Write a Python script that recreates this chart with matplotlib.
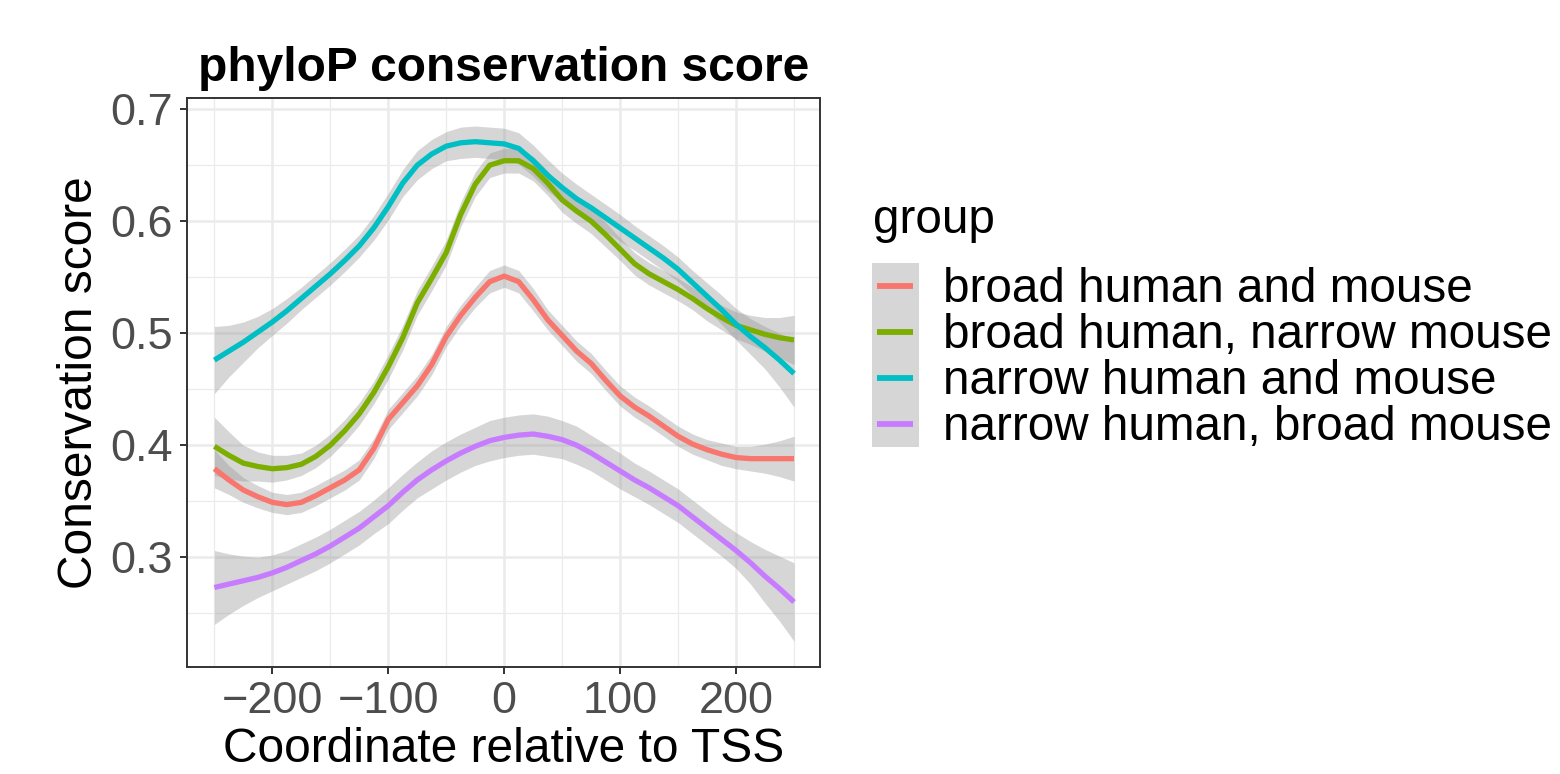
import matplotlib.pyplot as plt
from matplotlib.lines import Line2D
from matplotlib.patches import Rectangle

plt.rcParams['font.family'] = ['Liberation Sans', 'DejaVu Sans']

# positions relative to TSS (every 12.5 bp)
coord = [-250, -237.5, -225, -212.5, -200, -187.5, -175, -162.5, -150, -137.5,
         -125, -112.5, -100, -87.5, -75, -62.5, -50, -37.5, -25, -12.5, 0,
         12.5, 25, 37.5, 50, 62.5, 75, 87.5, 100, 112.5, 125,
         137.5, 150, 162.5, 175, 187.5, 200, 212.5, 225, 237.5, 250]

groups = ["broad human and mouse", "broad human, narrow mouse",
          "narrow human and mouse", "narrow human, broad mouse"]
colors = ["#F8766D", "#7CAE00", "#00BFC4", "#C77CFF"]

broad_both = [0.379, 0.369, 0.360, 0.354, 0.349, 0.347, 0.349, 0.355, 0.362, 0.369,
              0.378, 0.397, 0.423, 0.438, 0.453, 0.472, 0.497, 0.516, 0.532, 0.546, 0.551,
              0.546, 0.530, 0.512, 0.498, 0.484, 0.473, 0.458, 0.444, 0.434, 0.426,
              0.417, 0.408, 0.401, 0.396, 0.392, 0.389, 0.388, 0.388, 0.388, 0.388]
broad_narrow = [0.399, 0.391, 0.384, 0.381, 0.379, 0.380, 0.383, 0.390, 0.400, 0.413,
                0.428, 0.447, 0.470, 0.496, 0.527, 0.549, 0.572, 0.606, 0.633, 0.650, 0.654,
                0.654, 0.647, 0.634, 0.619, 0.609, 0.600, 0.588, 0.575, 0.562, 0.553,
                0.546, 0.539, 0.531, 0.522, 0.514, 0.507, 0.503, 0.499, 0.496, 0.494]
narrow_both = [0.476, 0.484, 0.492, 0.501, 0.510, 0.520, 0.531, 0.542, 0.553, 0.565,
               0.578, 0.594, 0.613, 0.634, 0.650, 0.660, 0.667, 0.670, 0.671, 0.670, 0.669,
               0.665, 0.654, 0.641, 0.630, 0.620, 0.612, 0.603, 0.594, 0.585, 0.576,
               0.567, 0.557, 0.545, 0.533, 0.521, 0.508, 0.497, 0.487, 0.476, 0.464]
narrow_broad = [0.273, 0.276, 0.279, 0.282, 0.286, 0.291, 0.297, 0.303, 0.310, 0.318,
                0.326, 0.336, 0.346, 0.358, 0.369, 0.378, 0.386, 0.393, 0.399, 0.404, 0.407,
                0.409, 0.410, 0.408, 0.405, 0.400, 0.393, 0.385, 0.377, 0.369, 0.362,
                0.354, 0.346, 0.336, 0.326, 0.316, 0.306, 0.295, 0.283, 0.272, 0.260]

# half width of the confidence band
se_broad_both = [0.017, 0.013, 0.011, 0.010, 0.009, 0.009, 0.009, 0.009, 0.009, 0.009,
                 0.009, 0.009, 0.009, 0.009, 0.009, 0.009, 0.009, 0.009, 0.009, 0.010, 0.010,
                 0.010, 0.010, 0.009, 0.009, 0.009, 0.009, 0.009, 0.009, 0.009, 0.009,
                 0.009, 0.009, 0.009, 0.009, 0.010, 0.010, 0.011, 0.013, 0.016, 0.020]
se_broad_narrow = [0.026, 0.021, 0.016, 0.013, 0.012, 0.011, 0.010, 0.010, 0.010, 0.010,
                   0.010, 0.010, 0.011, 0.011, 0.011, 0.011, 0.011, 0.011, 0.011, 0.011, 0.011,
                   0.011, 0.011, 0.011, 0.011, 0.011, 0.011, 0.011, 0.010, 0.010, 0.010,
                   0.010, 0.010, 0.010, 0.011, 0.011, 0.012, 0.013, 0.015, 0.018, 0.022]
se_narrow_both = [0.030, 0.023, 0.018, 0.014, 0.012, 0.011, 0.010, 0.010, 0.010, 0.010,
                  0.010, 0.011, 0.012, 0.012, 0.013, 0.013, 0.013, 0.014, 0.014, 0.014, 0.014,
                  0.014, 0.014, 0.014, 0.013, 0.013, 0.012, 0.012, 0.012, 0.011, 0.011,
                  0.011, 0.011, 0.011, 0.012, 0.013, 0.014, 0.016, 0.019, 0.024, 0.030]
se_narrow_broad = [0.033, 0.027, 0.022, 0.018, 0.016, 0.015, 0.015, 0.015, 0.015, 0.015,
                   0.015, 0.015, 0.016, 0.016, 0.016, 0.017, 0.017, 0.017, 0.017, 0.018, 0.018,
                   0.018, 0.018, 0.018, 0.017, 0.017, 0.016, 0.016, 0.016, 0.015, 0.015,
                   0.015, 0.015, 0.015, 0.015, 0.015, 0.016, 0.019, 0.024, 0.029, 0.035]

series = [broad_both, broad_narrow, narrow_both, narrow_broad]
ses = [se_broad_both, se_broad_narrow, se_narrow_both, se_narrow_broad]

W, H = 1560, 774
fig = plt.figure(figsize=(W / 100, H / 100), dpi=100)
ax = fig.add_axes([187 / W, 1 - 667 / H, (820 - 187) / W, (667 - 98) / H])

for ys, se in zip(series, ses):
    lo = [y - s for y, s in zip(ys, se)]
    hi = [y + s for y, s in zip(ys, se)]
    ax.fill_between(coord, lo, hi, color="#999999", alpha=0.4, linewidth=0, zorder=2)
for ys, c in zip(series, colors):
    ax.plot(coord, ys, color=c, linewidth=3.8, solid_capstyle='butt',
            solid_joinstyle='round', zorder=3)

ax.set_xlim(-273.6, 272.4)
ax.set_ylim(0.202, 0.710)
ax.set_xticks([-200, -100, 0, 100, 200])
ax.set_xticklabels(["\u2212200", "\u2212100", "0", "100", "200"])
ax.set_yticks([0.3, 0.4, 0.5, 0.6, 0.7])
ax.set_xticks([-250, -150, -50, 50, 150, 250], minor=True)
ax.set_yticks([0.25, 0.35, 0.45, 0.55, 0.65], minor=True)
ax.grid(which='major', color='#EBEBEB', linewidth=1.8, zorder=0)
ax.grid(which='minor', color='#EBEBEB', linewidth=0.9, zorder=0)
ax.set_axisbelow(True)
ax.tick_params(which='major', labelsize=32.5, labelcolor='#4D4D4D', color='#333333',
               length=5, width=1.4, pad=5)
ax.tick_params(which='minor', length=0)
for sp in ax.spines.values():
    sp.set_color('#333333')
    sp.set_linewidth(1.4)

ax.set_xlabel("Coordinate relative to TSS", fontsize=34.5, labelpad=4)
ax.set_ylabel("Conservation score", fontsize=34.5, labelpad=6)
ax.set_title("phyloP conservation score", fontsize=34.5, fontweight='bold', pad=12)

# legend, laid out like the ggplot guide
fig.text(873 / W, 1 - 233 / H, "group", fontsize=34.3, va='baseline', ha='left')
fig.patches.append(Rectangle((872 / W, 1 - 447 / H), 47 / W, 184 / H,
                             transform=fig.transFigure, facecolor='#D6D6D6',
                             edgecolor='none', zorder=0))
key_y = [285.7, 331.7, 377.7, 424.0]
for ky, c, g in zip(key_y, colors, groups):
    fig.lines.append(Line2D([877 / W, 913 / W], [1 - ky / H, 1 - ky / H],
                            transform=fig.transFigure, color=c, linewidth=4.2,
                            solid_capstyle='butt'))
    fig.text(943 / W, 1 - (ky + 16) / H, g, fontsize=34.3, va='baseline', ha='left')

fig.savefig("out.png", dpi=100)
